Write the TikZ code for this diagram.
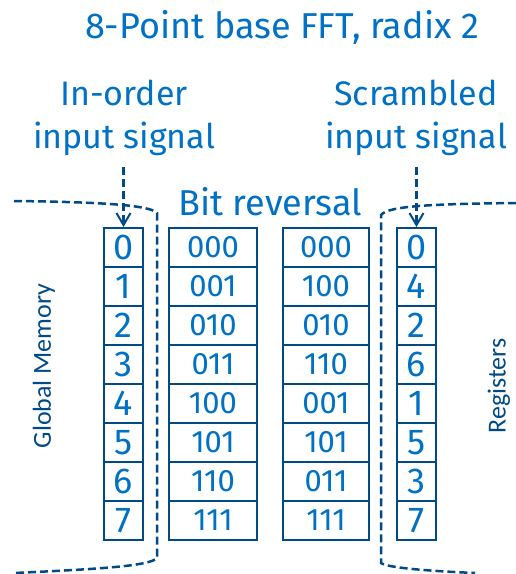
\documentclass[tikz,border=0pt]{standalone}
\usepackage{fontspec}
\setmainfont{Fira Sans}
\newfontfamily\sidefont{Carlito}
\usetikzlibrary{arrows.meta}
\definecolor{txtblue}{HTML}{0071C5}
\definecolor{linblue}{HTML}{004A86}
\tikzset{
  cell/.style={draw=linblue, line width=2pt, text=txtblue, minimum height=39pt,
    inner sep=0pt, anchor=center},
  digit/.style={cell, minimum width=39pt, font=\fontsize{36}{36}\selectfont},
  bits/.style={cell, font=\fontsize{31}{31}\selectfont},
  label/.style={text=txtblue, font=\fontsize{34}{34}\selectfont, anchor=base, inner sep=0pt},
  side/.style={text=linblue, font=\sidefont\fontsize{26}{26}\selectfont, rotate=90, inner sep=0pt},
  bound/.style={draw=linblue, line width=2.5pt, dash pattern=on 8pt off 4pt},
  feed/.style={draw=linblue, line width=2.5pt, dash pattern=on 8pt off 4pt,
    -{Straight Barb[length=12pt,width=14pt,line width=2pt]}},
}
\begin{document}
\begin{tikzpicture}[x=1pt,y=-1pt]
\useasboundingbox (0,0) rectangle (516,574);

% titles
\node[label, font=\fontsize{36}{36}\selectfont] (title) at (282,38) {8-Point base FFT, radix 2};
\node[label] (inA) at (124,105) {In-order};
\node[label] (inB) at (124,148) {input signal};
\node[label] (scA) at (416,105) {Scrambled};
\node[label] (scB) at (416,148) {input signal};
\node[label, font=\fontsize{36}{36}\selectfont] (br) at (270,215) {Bit reversal};

% the four columns
\foreach \v [count=\i from 0] in {0,1,2,3,4,5,6,7}
  \node[digit] (a\i) at (123.5,{247.5+39*\i}) {\v};
\foreach \v [count=\i from 0] in {000,001,010,011,100,101,110,111}
  \node[bits, minimum width=88pt] (b\i) at (213,{247.5+39*\i}) {\v};
\foreach \v [count=\i from 0] in {000,100,010,110,001,101,011,111}
  \node[bits, minimum width=86pt] (c\i) at (326,{247.5+39*\i}) {\v};
\foreach \v [count=\i from 0] in {0,4,2,6,1,5,3,7}
  \node[digit] (d\i) at (416.5,{247.5+39*\i}) {\v};

% memory regions
\draw[bound] (14,201) .. controls (100,202) and (150,205) .. (157,213) -- (157,558)
  .. controls (150,566) and (100,569) .. (14,573);
\draw[bound] (516,203) .. controls (430,204) and (388,206) .. (381,215) -- (381,563)
  .. controls (388,568) and (430,571) .. (475,573);

\node[side] (gm) at (44,366) {Global Memory};
\node[side] (rg) at (499,386) {Registers};

% input feeds
\coordinate (inSrc) at (123.5,167);
\coordinate (scSrc) at (416.5,167);
\draw[feed] (inSrc) -- (a0.north);
\draw[feed] (scSrc) -- (d0.north);
\end{tikzpicture}
\end{document}
